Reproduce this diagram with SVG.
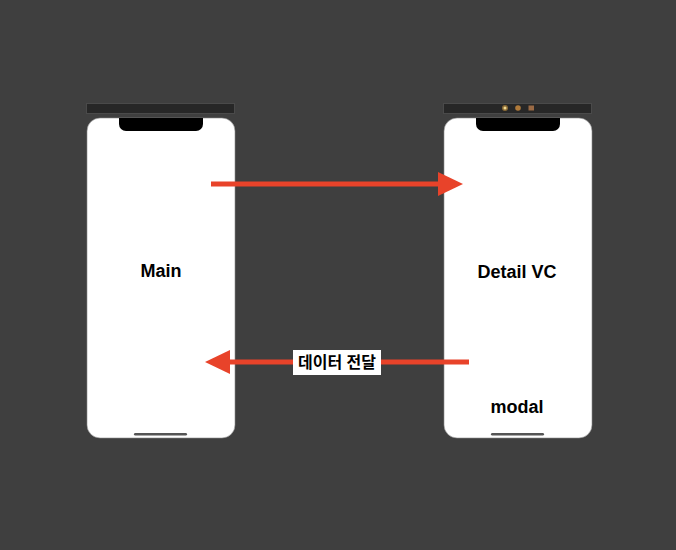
<svg xmlns="http://www.w3.org/2000/svg" width="676" height="550" viewBox="0 0 676 550">
<defs>
<style>
.bar{fill:#272727;stroke:#4a4a4a;stroke-width:1}
.body{fill:#ffffff;stroke:#8a8a8a;stroke-width:0.6}
.notch{fill:#000000}
.home{fill:#555555}
.lbl{font-family:"Liberation Sans",Arial,sans-serif;font-weight:bold;font-size:18px;fill:#000;text-anchor:middle}
.conn{stroke:#e8432a;stroke-width:5;fill:none}
.head{fill:#e8432a}
.tag{font-family:"Liberation Sans","Noto Sans CJK KR",sans-serif;font-weight:bold;font-size:16px;fill:#000;text-anchor:middle}
</style>
</defs>
<rect width="676" height="550" fill="#3f3f3f"/>
<g id="main">
<rect class="bar" x="86.5" y="103.5" width="148" height="10"/>
<rect class="body" x="87" y="118" width="148" height="320" rx="13"/>
<path class="notch" d="M119 118 H203 V124 a7 7 0 0 1 -7 7 H126 a7 7 0 0 1 -7 -7 Z"/>
<rect class="home" x="134" y="433" width="53" height="2.5" rx="1.2"/>
<text class="lbl" x="161" y="277">Main</text>
</g>
<g id="detail">
<rect class="bar" x="443.5" y="103.5" width="148" height="10"/>
<circle cx="505" cy="108" r="3" fill="#8a6a35"/>
<circle cx="505" cy="108" r="1.5" fill="#f0d890"/>
<circle cx="518" cy="108" r="2.8" fill="#b07a3a"/>
<rect x="528.5" y="105.5" width="5.5" height="5" fill="#9a6a45"/>
<rect class="body" x="444" y="118" width="148" height="320" rx="13"/>
<path class="notch" d="M476 118 H560 V124 a7 7 0 0 1 -7 7 H483 a7 7 0 0 1 -7 -7 Z"/>
<rect class="home" x="491" y="433" width="53" height="2.5" rx="1.2"/>
<text class="lbl" x="517" y="278">Detail VC</text>
<text class="lbl" x="517" y="413">modal</text>
</g>
<g id="connectors">
<line class="conn" x1="211" y1="184" x2="442" y2="184"/>
<polygon class="head" points="438,172 463,184 438,196"/>
<line class="conn" x1="469" y1="362" x2="228" y2="362"/>
<polygon class="head" points="230,350 205,362 230,374"/>
<rect x="293" y="350" width="88" height="25" fill="#ffffff"/>
<text class="tag" x="337" y="368">데이터 전달</text>
</g>
</svg>
